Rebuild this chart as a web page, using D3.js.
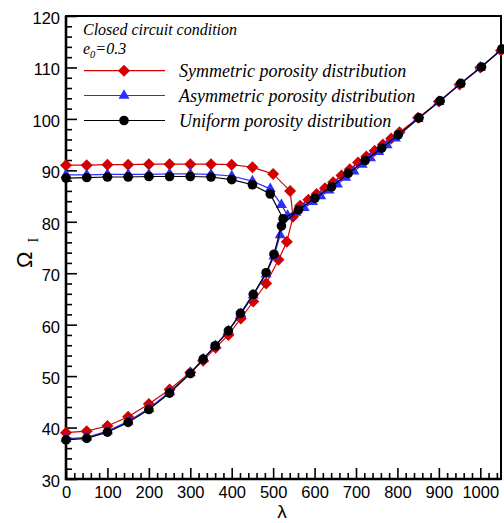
<!DOCTYPE html>
<html>
<head>
<meta charset="utf-8">
<script src="https://cdn.jsdelivr.net/npm/d3@7"></script>
<style>
  html, body { margin: 0; padding: 0; background: #fff; }
  svg { display: block; }
</style>
</head>
<body>
<svg id="chart" width="504" height="523"></svg>
<script>
// ---- Data: Ω_I versus λ (closed circuit, e0 = 0.3) ----
// Each distribution has a lower branch, an upper branch, and a right branch
// that continues after the two branches meet.

// Symmetric porosity distribution
const symLowerLambda = [0, 50, 100, 150, 200, 250, 300, 331, 361, 392, 422, 452, 483, 513, 533];
const symLowerOmega  = [39.0, 39.3, 40.3, 42.1, 44.6, 47.4, 50.7, 53.0, 55.5, 58.0, 61.2, 64.5, 68.0, 72.6, 76.1];
const symUpperLambda = [0, 50, 100, 150, 200, 250, 300, 350, 400, 450, 500, 541];
const symUpperOmega  = [91.0, 91.0, 91.1, 91.1, 91.2, 91.2, 91.2, 91.2, 91.1, 90.6, 89.3, 86.0];
const symRightLambda = [548, 565, 585, 605, 625, 645, 665, 685, 705, 725, 745, 765, 785, 805, 850, 900, 950, 1000, 1050];
const symRightOmega  = [81.0, 83.1, 84.3, 85.4, 86.5, 87.7, 89.0, 90.2, 91.5, 92.7, 93.8, 95.0, 96.2, 97.4, 100.2, 103.4, 106.7, 110.0, 113.3];

// Asymmetric porosity distribution
const asymLowerLambda = [0, 50, 100, 150, 200, 250, 300, 331, 361, 392, 422, 452, 483, 502, 517];
const asymLowerOmega  = [37.8, 38.1, 39.3, 41.2, 43.7, 46.9, 50.6, 53.3, 55.9, 58.8, 62.1, 65.7, 69.8, 73.3, 77.4];
const asymUpperLambda = [0, 50, 100, 150, 200, 250, 300, 350, 400, 450, 493, 520];
const asymUpperOmega  = [89.1, 89.1, 89.2, 89.2, 89.2, 89.3, 89.3, 89.2, 88.9, 87.9, 86.4, 83.3];
const asymRightLambda = [535, 555, 575, 595, 615, 635, 655, 675, 695, 715, 735, 755, 775, 795, 850, 900, 950, 1000, 1050];
const asymRightOmega  = [81.2, 81.8, 82.7, 83.9, 85.0, 86.1, 87.3, 88.6, 89.8, 91.1, 92.4, 93.6, 94.9, 96.2, 100.0, 103.3, 106.7, 110.0, 113.4];

// Uniform porosity distribution
const uniLowerLambda = [0, 50, 100, 150, 200, 250, 300, 331, 360, 392, 421, 452, 483, 502, 520];
const uniLowerOmega  = [37.6, 37.9, 39.1, 41.0, 43.5, 46.7, 50.5, 53.3, 55.9, 58.8, 62.2, 65.9, 70.1, 73.7, 79.2];
const uniUpperLambda = [0, 50, 100, 150, 200, 250, 300, 350, 400, 450, 493, 524];
const uniUpperOmega  = [88.5, 88.6, 88.7, 88.7, 88.8, 88.8, 88.8, 88.7, 88.2, 87.2, 85.4, 80.6];
const uniRightLambda = [561, 601, 641, 681, 722, 762, 802, 852, 903, 953, 1003, 1052];
const uniRightOmega  = [82.3, 84.6, 86.8, 89.4, 91.9, 94.3, 96.9, 100.2, 103.5, 106.9, 110.1, 113.6];

// Axis ticks
const xTicks = [0, 100, 200, 300, 400, 500, 600, 700, 800, 900, 1000];
const yTicks = [30, 40, 50, 60, 70, 80, 90, 100, 110, 120];

const legendLabels = [
  "Symmetric porosity distribution",
  "Asymmetric porosity distribution",
  "Uniform porosity distribution"
];

// ---- Layout ----
const svg = d3.select("#chart");
const plotLeft = 66, plotRight = 501, plotTop = 16, plotBottom = 479;

const x = d3.scaleLinear().domain([0, 1050]).range([plotLeft, plotRight]);
const y = d3.scaleLinear().domain([30, 120]).range([plotBottom, plotTop]);

const RED = "#d40000", BLUE = "#2e2eff", BLACK = "#000000";
const sansFont = "'Liberation Sans', Arial, sans-serif";
const serifFont = "'Liberation Serif', 'Times New Roman', serif";

const zip = (xs, ys) => xs.map((v, i) => [v, ys[i]]);

const series = [
  { color: RED,   shape: "diamond",  lower: zip(symLowerLambda, symLowerOmega),   upper: zip(symUpperLambda, symUpperOmega),   right: zip(symRightLambda, symRightOmega) },
  { color: BLUE,  shape: "triangle", lower: zip(asymLowerLambda, asymLowerOmega), upper: zip(asymUpperLambda, asymUpperOmega), right: zip(asymRightLambda, asymRightOmega) },
  { color: BLACK, shape: "circle",   lower: zip(uniLowerLambda, uniLowerOmega),   upper: zip(uniUpperLambda, uniUpperOmega),   right: zip(uniRightLambda, uniRightOmega) }
];

// Marker path generators centred on the origin
function markerPath(shape) {
  if (shape === "diamond") {
    const r = 6;
    return `M0,${-r}L${r},0L0,${r}L${-r},0Z`;
  }
  if (shape === "triangle") {
    const s = 11, h = s * Math.sqrt(3) / 2;
    return `M0,${-h * 2 / 3}L${s / 2},${h / 3}L${-s / 2},${h / 3}Z`;
  }
  return d3.symbol().type(d3.symbolCircle).size(Math.PI * 4.8 * 4.8)();
}

const line = d3.line().x(d => x(d[0])).y(d => y(d[1]));

// ---- Axes (ticks point inward) ----
svg.append("g").attr("transform", `translate(0,${plotBottom})`)
  .call(d3.axisBottom(x).tickValues(xTicks).tickSize(-11).tickPadding(7).tickFormat(d3.format("d")));
svg.append("g").attr("transform", `translate(0,${plotBottom})`)
  .call(d3.axisBottom(x).tickValues(d3.range(0, 1051, 20).filter(v => v % 100 !== 0)).tickSize(-6).tickFormat(""));

const yAxis = svg.append("g").attr("transform", `translate(${plotLeft},0)`)
  .call(d3.axisLeft(y).tickValues(yTicks).tickSize(-11).tickPadding(6).tickFormat(d3.format("d")));
svg.append("g").attr("transform", `translate(${plotLeft},0)`)
  .call(d3.axisLeft(y).tickValues(d3.range(30, 120.1, 2).filter(v => v % 10 !== 0)).tickSize(-6).tickFormat(""));

svg.selectAll(".domain").remove();
svg.selectAll(".tick line").attr("stroke", "#000").attr("stroke-width", 1.6);
svg.selectAll(".tick text")
  .attr("fill", "#000")
  .style("font-family", sansFont)
  .style("font-size", "16.5px");
yAxis.selectAll(".tick text").attr("dy", "0.45em");

// Frame
svg.append("rect")
  .attr("x", plotLeft).attr("y", plotTop)
  .attr("width", plotRight - plotLeft).attr("height", plotBottom - plotTop)
  .attr("fill", "none").attr("stroke", "#000").attr("stroke-width", 2);
svg.append("path")
  .attr("d", `M${plotLeft},${plotTop}V${plotBottom}H${plotRight}`)
  .attr("fill", "none").attr("stroke", "#000").attr("stroke-width", 2.6);

// ---- Curves and markers ----
const plot = svg.append("g");
series.forEach(s => {
  const join = s.right[0];
  const paths = [s.lower.concat([join]), s.upper.concat([join]), s.right];
  paths.forEach(p => {
    plot.append("path")
      .attr("d", line(p))
      .attr("fill", "none")
      .attr("stroke", s.color)
      .attr("stroke-width", 1.2);
  });
  const pts = s.lower.concat(s.upper, s.right);
  plot.append("g").selectAll("path").data(pts).join("path")
    .attr("d", markerPath(s.shape))
    .attr("transform", d => `translate(${x(d[0])},${y(d[1])})`)
    .attr("fill", s.color);
});

// ---- Annotation and legend ----
svg.append("text")
  .attr("x", 83).attr("y", 35)
  .style("font-family", serifFont).style("font-style", "italic").style("font-size", "16px")
  .text("Closed circuit condition");

const eText = svg.append("text")
  .attr("x", 83).attr("y", 54)
  .style("font-family", serifFont).style("font-style", "italic").style("font-size", "16px");
eText.append("tspan").text("e");
eText.append("tspan").attr("dy", 4).style("font-size", "10.5px").text("0");
eText.append("tspan").attr("dy", -4).text("=0.3");

const legendRows = [70.7, 95.5, 120.5];
series.forEach((s, i) => {
  const ly = legendRows[i];
  svg.append("line")
    .attr("x1", 84).attr("x2", 165).attr("y1", ly).attr("y2", ly)
    .attr("stroke", s.color).attr("stroke-width", 1.2);
  svg.append("path")
    .attr("d", markerPath(s.shape))
    .attr("transform", `translate(124,${ly})`)
    .attr("fill", s.color);
  svg.append("text")
    .attr("x", 179).attr("y", ly + 6)
    .style("font-family", serifFont).style("font-style", "italic").style("font-size", "18px")
    .text(legendLabels[i]);
});

// ---- Axis titles ----
svg.append("text")
  .attr("x", 282).attr("y", 518)
  .attr("text-anchor", "middle")
  .style("font-family", sansFont).style("font-size", "19px")
  .text("λ");

const yTitle = svg.append("text")
  .attr("transform", "translate(32,268) rotate(-90)")
  .style("font-family", sansFont).style("font-size", "22px");
yTitle.append("tspan").text("Ω");
yTitle.append("tspan").attr("dx", 9).attr("dy", 6).style("font-family", serifFont).style("font-size", "14px").text("I");
</script>
</body>
</html>
